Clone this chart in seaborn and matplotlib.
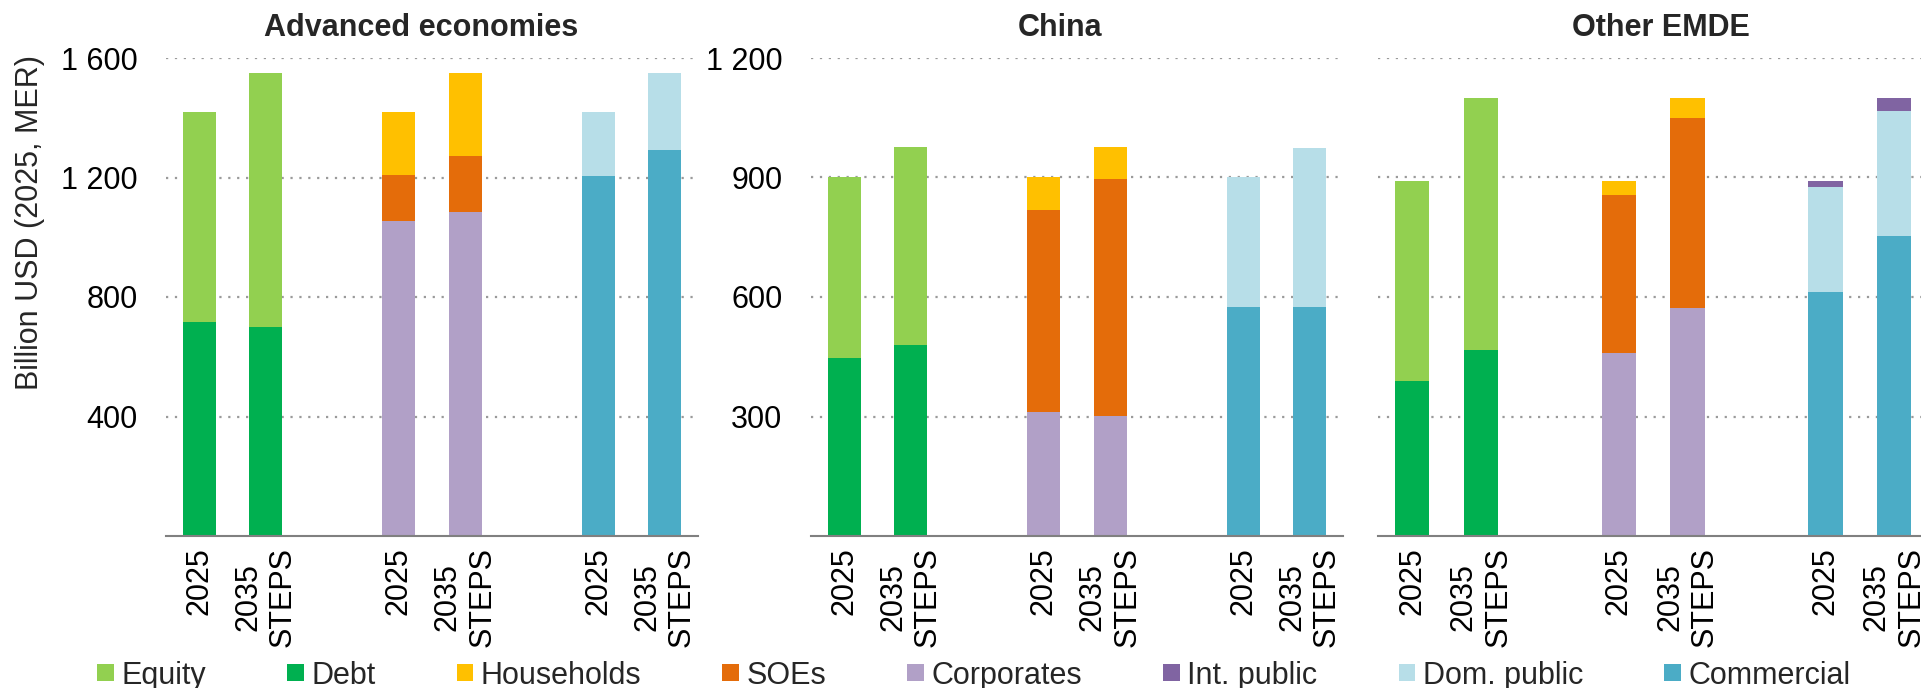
import matplotlib
matplotlib.use("Agg")
import matplotlib.pyplot as plt
import numpy as np
import pandas as pd
import seaborn as sns
from matplotlib.patches import Rectangle

# ---------------- data ----------------
panels = ["Advanced economies", "China", "Other EMDE"]
year_labels = ["2025", "2035\nSTEPS"]
series = ["Equity", "Debt", "Households", "SOEs", "Corporates",
          "Int. public", "Dom. public", "Commercial"]
colors = ["#92D050", "#00B050", "#FFC000", "#E46C0A", "#B1A0C7",
          "#8064A2", "#B7DEE8", "#4BACC6"]

# values per panel -> [2025, 2035 STEPS], billion USD
equity      = [[705, 852], [453, 498], [500, 634]]
debt        = [[715, 698], [447, 479], [390, 466]]
households  = [[210, 279], [81, 81],   [33, 50]]
soes        = [[156, 186], [507, 595], [397, 477]]
corporates  = [[1054, 1085], [312, 301], [460, 573]]
int_public  = [[0, 0],     [0, 0],     [15, 32]]
dom_public  = [[214, 259], [325, 399], [263, 315]]
commercial  = [[1206, 1291], [575, 576], [612, 753]]

y_max = [1600, 1200, 1200]
y_ticks = [[400, 800, 1200, 1600], [300, 600, 900, 1200], [300, 600, 900, 1200]]

values = {"Equity": equity, "Debt": debt, "Households": households, "SOEs": soes,
          "Corporates": corporates, "Int. public": int_public,
          "Dom. public": dom_public, "Commercial": commercial}
# stacks, bottom -> top
stacks = [["Debt", "Equity"],
          ["Corporates", "SOEs", "Households"],
          ["Commercial", "Dom. public", "Int. public"]]
stack_positions = [[0, 1], [3, 4], [6, 7]]

rows = []
for p, panel in enumerate(panels):
    for g, stack in enumerate(stacks):
        for yi in range(2):
            cum = 0
            for k, s in enumerate(stack):
                v = values[s][p][yi]
                if v <= 0:
                    continue
                cum += v
                rows.append(dict(panel=panel, pos=stack_positions[g][yi],
                                 series=s, value=v, cum=cum, k=k))
df = pd.DataFrame(rows)
palette = dict(zip(series, colors))

# ---------------- style ----------------
sns.set_theme(style="white")
plt.rcParams["font.family"] = ["Liberation Sans", "DejaVu Sans"]
FS = 22

W, H = 1921, 688
fig = plt.figure(figsize=(W / 100, H / 100), dpi=100)

axes_px = [(166, 532), (811, 532), (1377.7, 551)]
bottom_px, top_px = 536, 58

tick_positions = [0, 1, 3, 4, 6, 7]
tick_texts = year_labels * 3

for p, panel in enumerate(panels):
    x0, w = axes_px[p]
    ax = fig.add_axes([x0 / W, (H - bottom_px) / H, w / W, (bottom_px - top_px) / H])
    sub = df[df.panel == panel]
    for k in sorted(sub.k.unique(), reverse=True):
        d = sub[sub.k == k]
        sns.barplot(data=d, x="pos", y="cum", hue="series", palette=palette,
                    native_scale=True, dodge=False, width=0.5, legend=False,
                    saturation=1, linewidth=0, errorbar=None, ax=ax)
    ax.set_xlim(-0.5, 7.5)
    ax.set_ylim(0, y_max[p])
    ax.set_xticks(tick_positions)
    ax.set_xticklabels(tick_texts)
    ax.set_yticks(y_ticks[p])
    if p < 2:
        ax.set_yticklabels([f"{t:,}".replace(",", " ") for t in y_ticks[p]])
    else:
        ax.set_yticklabels([])
    ax.set_xlabel("")
    ax.set_ylabel("")
    ax.tick_params(axis="y", length=0, pad=20.5, labelsize=FS, colors="black")
    ax.tick_params(axis="x", length=0, pad=8, labelsize=FS, rotation=90, colors="black")
    ax.yaxis.grid(True, linestyle=(0, (1, 3)), color="#9a9a9a", linewidth=1.6)
    ax.xaxis.grid(False)
    ax.set_axisbelow(True)
    for s in ["left", "top", "right"]:
        ax.spines[s].set_visible(False)
    ax.spines["bottom"].set_color("#808080")
    ax.spines["bottom"].set_linewidth(1.5)

# titles
for panel, xc in zip(panels, [421, 1060, 1661]):
    fig.text(xc / W, 1 - 28 / H, panel, ha="center", va="center",
             fontsize=FS, fontweight="bold")

# y label
fig.text(30 / W, 1 - 222 / H, "Billion USD (2025, MER)", rotation=90,
         ha="center", va="center", fontsize=FS)

# legend (single row, evenly spaced entries)
renderer = fig.canvas.get_renderer()
x = 97.3           # px, left edge of first swatch
yc = 672.5         # px from top, centre of row
sw, gap, colsp = 16.5, 7.7, 81
for name, c in zip(series, colors):
    fig.patches.append(Rectangle(((x) / W, (H - yc - sw / 2) / H), sw / W, sw / H,
                                 transform=fig.transFigure, facecolor=c,
                                 edgecolor="none"))
    t = fig.text((x + sw + gap) / W, (H - yc) / H, name, ha="left",
                 va="center_baseline", fontsize=FS)
    bb = t.get_window_extent(renderer)
    x = bb.x1 + colsp

fig.savefig("out.png", dpi=100)
